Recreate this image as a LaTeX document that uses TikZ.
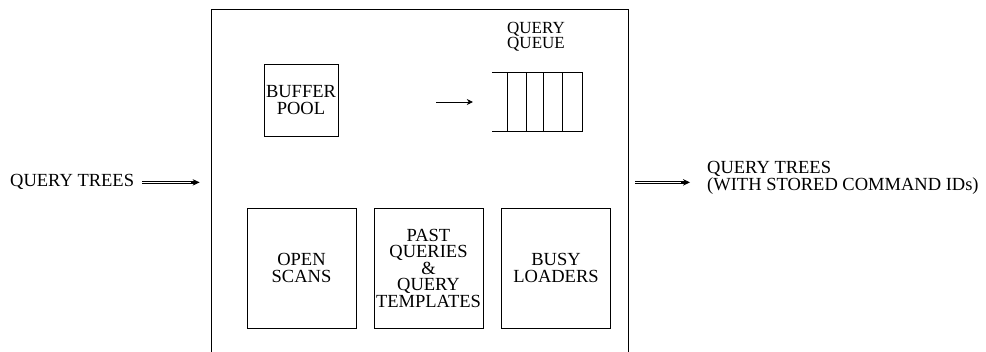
\documentclass[tikz,border=0pt]{standalone}
\usepackage{fontspec}
\setmainfont{Liberation Serif}
\usetikzlibrary{arrows.meta,calc}
\begin{document}
\begin{tikzpicture}[x=1pt,y=-1pt,
  txt/.style={font=\fontsize{18.5}{16.5}\selectfont, align=center, inner sep=0pt},
  box/.style={draw, line width=0.8pt, inner sep=0pt, txt},
  bigbox/.style={box, minimum width=109pt, minimum height=120pt},
  qline/.style={line width=1pt},
  dbl/.style={double, double distance=1.3pt, line width=0.5pt},
  tipst/.style={-{Stealth[length=7pt,width=6.5pt]}, line width=0.8pt},
  arr/.style={-{Stealth[length=6pt,width=6pt]}, line width=0.7pt}]
\useasboundingbox (0,0) rectangle (986,352);
\clip (0,0) rectangle (986,352);
% outer box (bottom edge lies below the picture)
\node[draw, line width=0.8pt, minimum width=417pt, minimum height=360pt, inner sep=0pt] (outer) at (419.5,189) {};
% buffer pool
\node[box, minimum width=74pt, minimum height=72pt] (buf) at (301,100) {BUFFER\\POOL};
% query queue
\node[minimum width=90pt, minimum height=58pt, inner sep=0pt] (queue) at (537,102) {};
\draw[qline] (queue.north west) -- (queue.north east) -- (queue.south east) -- (queue.south west);
\foreach \x in {16,35,52,71}
  \draw[qline] ($(queue.north west)+(\x,0)$) -- ($(queue.south west)+(\x,0)$);
\node[font=\fontsize{17}{13}\selectfont, align=center, inner sep=0pt] (ql) at (536,37) {QUERY\\QUEUE};
\coordinate (qin) at (436,102);
\draw[arr, shorten >=19pt] (qin) -- (queue.west);
% bottom boxes
\node[bigbox] (open) at (301.5,268) {OPEN\\SCANS};
\node[bigbox] (past) at (428.5,268) {PAST\\QUERIES\\\&\\QUERY\\TEMPLATES};
\node[bigbox] (busy) at (556,268) {BUSY\\LOADERS};
% input
\node[txt, anchor=base west] (qt) at (10,187) {QUERY TREES};
\draw[dbl, shorten <=8pt, shorten >=16pt] (qt.east) -- (qt.east -| outer.west);
\draw[tipst, shorten >=11pt] ($(qt.east -| outer.west)+(-20,0)$) -- (qt.east -| outer.west);
% output
\node[txt, align=left, anchor=west] (rt) at (707,178) {QUERY TREES\\(WITH STORED COMMAND IDs)};
\draw[dbl, shorten <=7pt, shorten >=22pt] (qt.east -| outer.east) -- (qt.east -| rt.west);
\draw[tipst, shorten >=17pt] ($(qt.east -| rt.west)+(-26,0)$) -- (qt.east -| rt.west);
\end{tikzpicture}
\end{document}
